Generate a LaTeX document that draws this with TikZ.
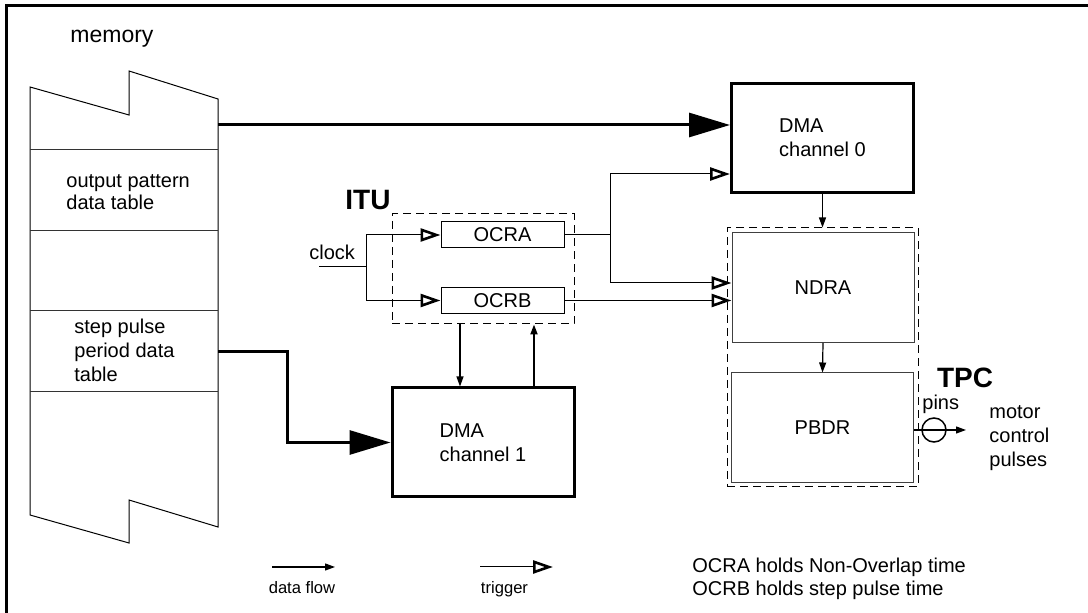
\documentclass[tikz,border=0pt]{standalone}
\usepackage{fontspec}
\setmainfont{Liberation Sans}
\usetikzlibrary{arrows.meta,calc}

\begin{document}
\begin{tikzpicture}[x=0.5pt,y=-0.5pt,
  txt/.style={font=\fontsize{10}{12}\selectfont, inner sep=0pt, align=left},
  legend/.style={font=\fontsize{8.3}{10}\selectfont, inner sep=0pt},
  title/.style={font=\fontsize{14}{16}\selectfont\bfseries, inner sep=0pt},
  dmabox/.style={draw, line width=1.5pt, minimum width=91pt, minimum height=54.5pt, txt},
  reg/.style={draw, line width=0.5pt, minimum width=61.5pt, minimum height=13pt, txt},
  port/.style={draw=black!75, line width=0.5pt, minimum width=91pt, minimum height=55pt, txt},
  group/.style={draw, line width=0.5pt, dash pattern=on 4pt off 2.5pt},
  flow/.style={-{Triangle[length=5pt,width=3.5pt]}, line width=0.6pt},
  bigflow/.style={-{Triangle[length=20.5pt,width=12pt]}, line width=1.5pt},
  trig/.style={-{Triangle[open,length=10pt,width=6.5pt,line width=1.3pt]}, line width=0.5pt}]
  \useasboundingbox (0,0) rectangle (1088,613);
  \draw[line width=1.4pt] (6.5,613) -- (6.5,5.5) -- (1088,5.5);

  % memory with its tables
  \draw[line width=0.5pt] (30,87) -- (129,115) -- (129,71) -- (218,99) -- (218,527)
    -- (129,500) -- (129,543) -- (30,515) -- cycle;
  \foreach \y in {150,231,311,392}
    \draw[line width=0.5pt, black!80] (30,\y) -- (218,\y);
  \coordinate (mem0) at (218,125);
  \coordinate (mem3) at (218,352);
  \node[font=\fontsize{11.5}{13}\selectfont, inner sep=0pt, anchor=base west] (memtxt) at (70,43) {memory};
  \node[txt, anchor=west, font=\fontsize{10}{11}\selectfont] (outtxt) at (66,192) {output pattern\\data table};
  \node[txt, anchor=west] (steptxt) at (74,350) {step pulse\\period data\\table};

  % ITU
  \node[group, minimum width=91pt, minimum height=55pt] (itu) at (483,269) {};
  \node[title] (itutxt) at (368,200) {ITU};
  \node[reg] (ocra) at (502.5,235) {OCRA};
  \node[reg] (ocrb) at (502.5,300.5) {OCRB};

  % DMA channels
  \node[dmabox] (dma0) at (822.5,138) {DMA\\channel 0};
  \node[dmabox] (dma1) at (483,442.5) {DMA\\channel 1};

  % TPC
  \node[group, minimum width=95.5pt, minimum height=129.5pt] (tpc) at (822.5,357.5) {};
  \node[title] (tpctxt) at (965,378) {TPC};
  \node[port] (ndra) at (823,287.5) {NDRA};
  \node[port] (pbdr) at (822.5,428) {PBDR};
  \node[draw, circle, line width=0.75pt, minimum size=12pt, inner sep=0pt] (pin) at (934,430) {};
  \coordinate (out) at (966,430);
  \node[txt, anchor=west] (pinstxt) at (922,404) {pins};
  \node[txt, anchor=west] (motortxt) at (989,438) {motor\\control\\pulses};

  % clock into the compare registers
  \coordinate (clk) at (319,267);
  \node[txt, anchor=west] (clocktxt) at (309,252) {clock};
  \draw[line width=0.5pt] (clk) -- ++(47,0) coordinate (cj);
  \draw[trig] (cj) |- (ocra.west);
  \draw[trig] (cj) |- (ocrb.west);

  \draw[line width=0.5pt] (ocra.east) -- ++(46,0) coordinate (oj);
  \draw[trig] (oj) |- ($(dma0.south west)+(0,-20)$);
  \draw[trig] (oj) |- ($(ndra.west)+(0,-4.5)$);
  \draw[trig] (ocrb.east) -- (ocrb.east -| ndra.west);

  \draw[bigflow] (mem0) -- (mem0 -| dma0.west);
  \draw[bigflow] (mem3) -- ++(69,0) |- (dma1.west);
  \draw[flow] (dma0.south) -- (dma0.south |- tpc.north);
  \draw[flow] (ndra.south) -- (pbdr.north);
  \draw[flow] ($(itu.south)+(-23,0)$) -- ($(dma1.north)+(-23,0)$);
  \draw[flow, line width=1pt] ($(dma1.north)+(51,0)$) -- ($(itu.south)+(51,0)$);
  \draw[flow] (pbdr.east |- pin) -- (out);

  % legend
  \coordinate (lf0) at (272,567);
  \coordinate (lf1) at (335,567);
  \draw[flow] (lf0) -- (lf1);
  \node[legend, anchor=base] (lftxt) at (302,594) {data flow};
  \coordinate (lt0) at (480,567);
  \coordinate (lt1) at (553,567);
  \draw[trig] (lt0) -- (lt1);
  \node[legend, anchor=base] (lttxt) at (504.5,594) {trigger};
  \node[txt, anchor=west, font=\fontsize{10}{11.5}\selectfont] (notetxt) at (692,579)
    {OCRA holds Non-Overlap time\\OCRB holds step pulse time};
\end{tikzpicture}
\end{document}
